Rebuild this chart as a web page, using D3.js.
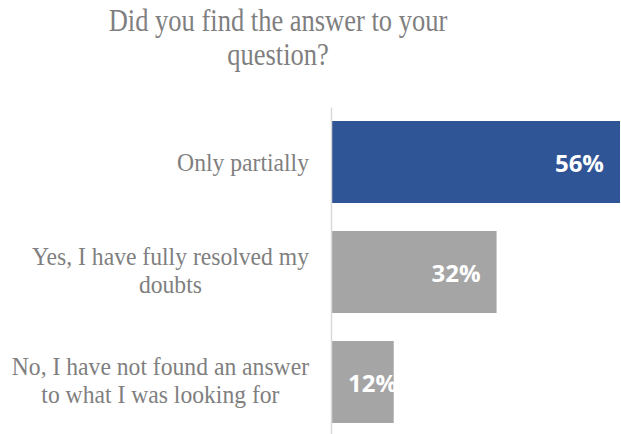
<!DOCTYPE html>
<html>
<head>
<meta charset="utf-8">
<script src="https://cdn.jsdelivr.net/npm/d3@7"></script>
<style>
  html, body { margin: 0; padding: 0; background: #fff; }
  svg { display: block; }
</style>
</head>
<body>
<svg id="chart" width="621" height="434"></svg>
<script>
// Survey answers, top to bottom
const categories = [
  "Only partially",
  "Yes, I have fully resolved my doubts",
  "No, I have not found an answer to what I was looking for"
];
// Wrapped label lines for each category
const categoryLines = [
  ["Only partially"],
  ["Yes, I have fully resolved my", "doubts"],
  ["No, I have not found an answer", "to what I was looking for"]
];
const shares = [0.56, 0.32, 0.12];
const barColors = ["#2f5597", "#a5a5a5", "#a5a5a5"];
const titleLines = ["Did you find the answer to your", "question?"];

const SERIF = '"Liberation Serif", "Times New Roman", Times, serif';
const TEXT_GRAY = "#7f7f7f";

const svg = d3.select("#chart");
const plot = { left: 332, right: 620, top: 107, bottom: 437 };

const x = d3.scaleLinear()
  .domain([0, d3.max(shares)])
  .range([plot.left, plot.right]);

const y = d3.scaleBand()
  .domain(categories)
  .range([plot.top, plot.bottom])
  .paddingInner(28 / 110)
  .paddingOuter(14 / 110);

// Fit a text element to a target width (glyphs are set a little narrow)
function fitWidth(sel, ratio) {
  sel.each(function() {
    const w = this.getComputedTextLength();
    d3.select(this)
      .attr("textLength", w * ratio)
      .attr("lengthAdjust", "spacingAndGlyphs");
  });
}

// Title
const title = svg.append("g")
  .style("font-family", SERIF)
  .style("font-size", "31px")
  .attr("fill", TEXT_GRAY)
  .attr("text-anchor", "middle");
title.selectAll("text")
  .data(titleLines)
  .join("text")
  .attr("x", 278)
  .attr("y", (d, i) => 31 + i * 34)
  .text(d => d)
  .call(fitWidth, 0.855);

// Bars
svg.append("g")
  .selectAll("rect")
  .data(shares)
  .join("rect")
  .attr("x", x(0))
  .attr("y", (d, i) => y(categories[i]))
  .attr("width", d => x(d) - x(0))
  .attr("height", y.bandwidth())
  .attr("fill", (d, i) => barColors[i]);

// Category axis: line only, labels drawn as centred wrapped text
const axis = svg.append("g")
  .attr("transform", `translate(${plot.left - 1},0)`)
  .call(d3.axisLeft(y).tickSize(0).tickSizeOuter(0).tickPadding(22));
axis.select(".domain")
  .attr("stroke", "#d9d9d9")
  .attr("stroke-width", 1.5);

const labelRight = -22;
axis.selectAll(".tick text").each(function(d, i) {
  const t = d3.select(this);
  const lines = categoryLines[i];
  t.text(null)
    .attr("dy", null)
    .attr("y", 0)
    .attr("fill", TEXT_GRAY)
    .attr("text-anchor", "middle")
    .style("font-family", SERIF)
    .style("font-size", "25px");
  const offset = lines.length === 1 ? 9 : 7 - 14;
  const spans = lines.map((line, j) =>
    t.append("tspan").attr("y", offset + j * 28).text(line));
  // shrink each line a touch, then centre the block on its widest line
  const widths = spans.map(s => s.node().getComputedTextLength() * 0.945);
  const maxW = d3.max(widths);
  spans.forEach((s, j) => {
    s.attr("x", labelRight - maxW / 2)
      .attr("textLength", widths[j])
      .attr("lengthAdjust", "spacingAndGlyphs");
  });
});

// Value labels inside the bar ends
svg.append("g")
  .style("font-family", '"Open Sans", sans-serif')
  .style("font-weight", 700)
  .style("font-size", "24px")
  .attr("fill", "#ffffff")
  .selectAll("text")
  .data(shares)
  .join("text")
  .attr("text-anchor", "end")
  .attr("y", (d, i) => y(categories[i]) + y.bandwidth() / 2 + 10)
  .text(d => Math.round(d * 100) + "%")
  .attr("x", function(d) {
    const w = this.getComputedTextLength();
    return Math.max(x(d) - 16, x(0) + 16 + w);
  });
</script>
</body>
</html>
